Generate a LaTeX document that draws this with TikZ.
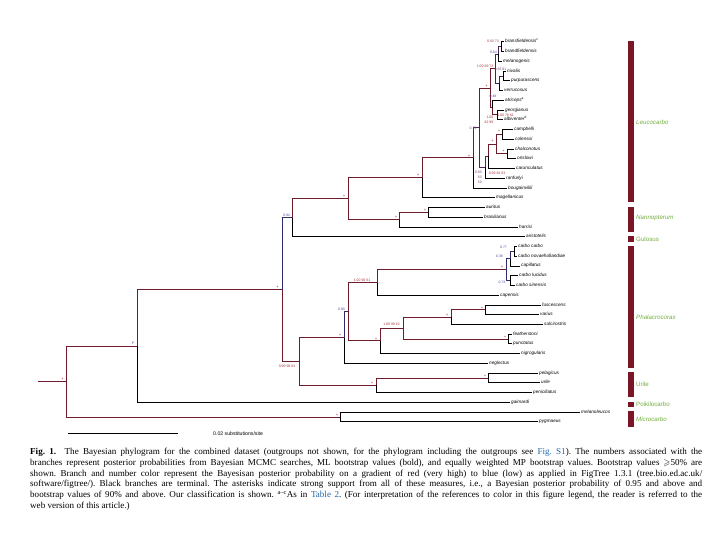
\documentclass[tikz,border=0pt]{standalone}
\usepackage{fontspec}
\usepackage{amssymb}
\setmainfont{Liberation Serif}
\newfontfamily\lsans{Liberation Sans}
\definecolor{brred}{HTML}{6E1C2C}
\definecolor{brpur}{HTML}{4E2556}
\definecolor{brblu}{HTML}{2F2C6C}
\definecolor{lbred}{HTML}{A3353A}
\definecolor{lbpur}{HTML}{7A4A7A}
\definecolor{lbblu}{HTML}{4B4E9C}
\definecolor{cgreen}{HTML}{72AE3E}
\definecolor{barred}{HTML}{7A1626}
\definecolor{linkblue}{HTML}{2266AA}
\tikzset{
  br/.style={line width=1bp, brred},
  brp/.style={line width=1bp, brpur},
  brb/.style={line width=1bp, brblu},
  tb/.style={line width=1bp, black},
  lf/.style={anchor=west, inner sep=1bp, font=\lsans\itshape\fontsize{4.7}{5}\selectfont, text height=3bp, text depth=1bp},
  supl/.style={inner sep=0pt, font=\lsans\fontsize{3.5}{5}\selectfont, text=lbred},
  supb/.style={supl, text=lbblu},
  supp/.style={supl, text=lbpur},
  ast/.style={inner sep=0pt, font=\lsans\fontsize{5}{5}\selectfont, text=lbred},
  clade/.style={anchor=west, inner sep=0pt, font=\lsans\itshape\fontsize{6.2}{7}\selectfont, text=cgreen},
  cladeu/.style={anchor=west, inner sep=0pt, font=\lsans\fontsize{6.2}{7}\selectfont, text=cgreen},
  cbar/.style={fill=barred, draw=none},
}
\begin{document}
\begin{tikzpicture}[x=1bp,y=-1bp]
\useasboundingbox (0,0) rectangle (720,540);
% internal nodes
\coordinate (root0) at (38,381.5);
\coordinate (nR) at (66,381.5);
\coordinate (n137) at (137,346.0);
\coordinate (n282) at (282,289.6);
\coordinate (nLNG) at (292,217.8);
\coordinate (nLN) at (348,198.8);
\coordinate (nL) at (422,177.9);
\coordinate (nB) at (473,158.0);
\coordinate (nC) at (479,127.9);
\coordinate (nD) at (490,88.3);
\coordinate (nG) at (495,68.8);
\coordinate (nb) at (498,54.2);
\coordinate (na) at (501,46.9);
\coordinate (nd) at (499,83.4);
\coordinate (nc) at (503,76.1);
\coordinate (nH) at (492,107.7);
\coordinate (nI) at (497,115.0);
\coordinate (nE) at (485,167.4);
\coordinate (nJ) at (488,156.4);
\coordinate (nK) at (496,144.3);
\coordinate (nM) at (502,134.6);
\coordinate (nN) at (507,154.0);
\coordinate (nNan) at (399,219.8);
\coordinate (nNan2) at (428,212.4);
\coordinate (nP0) at (299,361.4);
\coordinate (nP1) at (344,337.6);
\coordinate (nP2) at (348,311.7);
\coordinate (nP3) at (377,282.5);
\coordinate (nQ) at (506,269.7);
\coordinate (nQ1) at (510,258.7);
\coordinate (nQ1a) at (514,251.4);
\coordinate (nQ2) at (510,280.6);
\coordinate (nP4) at (380,340.9);
\coordinate (nRr) at (403,328.1);
\coordinate (nfvs) at (451,317.2);
\coordinate (nfv) at (485,309.9);
\coordinate (nfp) at (508,339.1);
\coordinate (nU) at (376,385.3);
\coordinate (nU2) at (488,378.0);
\coordinate (nMc) at (340,417.0);
% leaves
\node[lf] (l00) at (504,42.0) {bransfieldensis\textsuperscript{c}};
\node[lf] (l01) at (504,51.7) {brandfieldensis};
\node[lf] (l02) at (502,61.5) {melanogenis};
\node[lf] (l03) at (506,71.2) {nivalis};
\node[lf] (l04) at (510,81.0) {purpurascens};
\node[lf] (l05) at (503,90.7) {verrucosus};
\node[lf] (l06) at (504,100.4) {atriceps\textsuperscript{a}};
\node[lf] (l07) at (504,110.2) {georgianus};
\node[lf] (l08) at (503,119.9) {albiventer\textsuperscript{b}};
\node[lf] (l09) at (513,129.7) {campbelli};
\node[lf] (l10) at (514,139.4) {colensoi};
\node[lf] (l11) at (514,149.1) {chalconotus};
\node[lf] (l12) at (516,158.9) {onslowi};
\node[lf] (l13) at (515,168.6) {carunculatus};
\node[lf] (l14) at (505,178.4) {ranfurlyi};
\node[lf] (l15) at (507,188.1) {bougainvillii};
\node[lf] (l16) at (495,197.8) {magellanicus};
\node[lf] (l17) at (485,207.6) {auritus};
\node[lf] (l18) at (483,217.3) {brasilianus};
\node[lf] (l19) at (518,227.1) {harrisi};
\node[lf] (l20) at (525,236.8) {aristotelis};
\node[lf] (l21) at (517,246.5) {carbo carbo};
\node[lf] (l22) at (517,256.3) {carbo novaehollandiae};
\node[lf] (l23) at (520,266.0) {capillatus};
\node[lf] (l24) at (518,275.8) {carbo lucidus};
\node[lf] (l25) at (515,285.5) {carbo sinensis};
\node[lf] (l26) at (499,295.2) {capensis};
\node[lf] (l27) at (541,305.0) {fuscescens};
\node[lf] (l28) at (539,314.7) {varius};
\node[lf] (l29) at (543,324.5) {sulcirostris};
\node[lf] (l30) at (512,334.2) {featherstoni};
\node[lf] (l31) at (512,343.9) {punctatus};
\node[lf] (l32) at (520,353.7) {nigrogularis};
\node[lf] (l33) at (488,363.4) {neglectus};
\node[lf] (l34) at (538,373.2) {pelagicus};
\node[lf] (l35) at (540,382.9) {urile};
\node[lf] (l36) at (532,392.6) {penicillatus};
\node[lf] (l37) at (510,402.4) {gaimardi};
\node[lf] (l38) at (580,412.1) {melanoleucos};
\node[lf] (l39) at (538,421.9) {pygmaeus};
% internal branches
\draw[br] (root0) -- (nR);
\draw[br] (nR) |- (n137);
\draw[br] (nR) |- (nMc);
\draw[br] (n137) |- (n282);
\draw[brb] (n282) |- (nLNG);
\draw[br] (n282) |- (nP0);
\draw[br] (nLNG) |- (nLN);
\draw[br] (nLN) |- (nL);
\draw[br] (nLN) |- (nNan);
\draw[br] (nL) |- (nB);
\draw[brp] (nB) |- (nC);
\draw[br] (nC) |- (nD);
\draw[brp] (nC) |- (nE);
\draw[br] (nD) |- (nG);
\draw[br] (nD) |- (nH);
\draw[brb] (nG) |- (nb);
\draw[brb] (nG) |- (nd);
\draw[brp] (nb) |- (na);
\draw[brp] (nd) |- (nc);
\draw[br] (nH) |- (nI);
\draw[br] (nE) |- (nJ);
\draw[br] (nJ) |- (nK);
\draw[br] (nK) |- (nM);
\draw[br] (nK) |- (nN);
\draw[br] (nNan) |- (nNan2);
\draw[br] (nP0) |- (nP1);
\draw[br] (nP0) |- (nU);
\draw[brb] (nP1) |- (nP2);
\draw[br] (nP2) |- (nP3);
\draw[br] (nP2) |- (nP4);
\draw[br] (nP3) |- (nQ);
\draw[brb] (nQ) |- (nQ1);
\draw[brb] (nQ) |- (nQ2);
\draw[brb] (nQ1) |- (nQ1a);
\draw[br] (nP4) |- (nRr);
\draw[br] (nRr) |- (nfvs);
\draw[br] (nRr) |- (nfp);
\draw[br] (nfvs) |- (nfv);
\draw[br] (nU) |- (nU2);
% terminal branches
\draw[tb] (na) |- (l00.west);
\draw[tb] (na) |- (l01.west);
\draw[tb] (nb) |- (l02.west);
\draw[tb] (nc) |- (l03.west);
\draw[tb] (nc) |- (l04.west);
\draw[tb] (nd) |- (l05.west);
\draw[tb] (nH) |- (l06.west);
\draw[tb] (nI) |- (l07.west);
\draw[tb] (nI) |- (l08.west);
\draw[tb] (nM) |- (l09.west);
\draw[tb] (nM) |- (l10.west);
\draw[tb] (nN) |- (l11.west);
\draw[tb] (nN) |- (l12.west);
\draw[tb] (nJ) |- (l13.west);
\draw[tb] (nE) |- (l14.west);
\draw[tb] (nB) |- (l15.west);
\draw[tb] (nL) |- (l16.west);
\draw[tb] (nNan2) |- (l17.west);
\draw[tb] (nNan2) |- (l18.west);
\draw[tb] (nNan) |- (l19.west);
\draw[tb] (nLNG) |- (l20.west);
\draw[tb] (nQ1a) |- (l21.west);
\draw[tb] (nQ1a) |- (l22.west);
\draw[tb] (nQ1) |- (l23.west);
\draw[tb] (nQ2) |- (l24.west);
\draw[tb] (nQ2) |- (l25.west);
\draw[tb] (nP3) |- (l26.west);
\draw[tb] (nfv) |- (l27.west);
\draw[tb] (nfv) |- (l28.west);
\draw[tb] (nfvs) |- (l29.west);
\draw[tb] (nfp) |- (l30.west);
\draw[tb] (nfp) |- (l31.west);
\draw[tb] (nP4) |- (l32.west);
\draw[tb] (nP1) |- (l33.west);
\draw[tb] (nU2) |- (l34.west);
\draw[tb] (nU2) |- (l35.west);
\draw[tb] (nU) |- (l36.west);
\draw[tb] (n137) |- (l37.west);
\draw[tb] (nMc) |- (l38.west);
\draw[tb] (nMc) |- (l39.west);
% support labels
\node[supl, anchor=east] (s01) at (499,41.5) {0.92 73};
\node[supb, anchor=east] (s02) at (497,52) {0.64};
\node[supp] (s03) at (500.5,69) {0.66 91};
\node[supb] (s04) at (493,96) {0.48};
\node[supl, anchor=east] (s05) at (493.5,66.5) {1.00 89 73};
\node[supl] (s06) at (505.5,115) {1.00 78 81};
\node[supl, anchor=east, align=right] (s07) at (493.5,120) {1.00\\82 99};
\node[supp] (s08) at (473,128) {0.79};
\node[supl] (s09) at (497,173) {0.99 84 63};
\node[supp, anchor=east, align=right] (s10) at (482,177) {0.80\\63\\50};
\node[supb] (s11) at (286.5,215) {0.94};
\node[supb] (s12) at (133,343) {P};
\node[supl] (s13) at (287,366) {0.99 90 64};
\node[supb] (s14) at (341.5,309.5) {0.80};
\node[supl] (s15) at (362,280) {1.00 90 61};
\node[supb] (s16) at (499.5,256) {0.38};
\node[supb] (s17) at (503.5,247) {0.77};
\node[supb] (s18) at (502,282) {0.74};
\node[supl] (s19) at (391.5,324.5) {1.00 99 62};
% asterisks
\node[ast] (a01) at (486.5,87) {*};
\node[ast] (a02) at (469,157) {*};
\node[ast] (a03) at (499,132) {*};
\node[ast] (a04) at (492.5,141.5) {*};
\node[ast] (a05) at (503.5,151.5) {*};
\node[ast] (a06) at (418,176) {*};
\node[ast] (a07) at (344,197) {*};
\node[ast] (a08) at (396,218) {*};
\node[ast] (a09) at (425,211) {*};
\node[ast] (a10) at (277.5,288) {*};
\node[ast] (a11) at (62.5,380) {*};
\node[ast] (a12) at (340,336) {*};
\node[ast] (a13) at (502,268) {*};
\node[ast] (a14) at (376,339.5) {*};
\node[ast] (a15) at (447,315.5) {*};
\node[ast] (a16) at (482,308.5) {*};
\node[ast] (a17) at (505,337.5) {*};
\node[ast] (a18) at (372,384) {*};
\node[ast] (a19) at (485,376.5) {*};
\node[ast] (a20) at (337,415.5) {*};
% clade bars and names
\fill[cbar] (628,41) rectangle (633.5,202);
\fill[cbar] (628,207) rectangle (633.5,232);
\fill[cbar] (628,236) rectangle (633.5,242);
\fill[cbar] (628,246) rectangle (633.5,368);
\fill[cbar] (628,372) rectangle (633.5,397);
\fill[cbar] (628,402) rectangle (633.5,407);
\fill[cbar] (628,411) rectangle (633.5,427);
\node[clade] (c1) at (636,122) {Leucocarbo};
\node[clade] (c2) at (636,218) {Nannopterum};
\node[cladeu] (c3) at (636,239) {Gulosus};
\node[clade] (c4) at (636,317) {Phalacrocorax};
\node[cladeu] (c5) at (636,384) {Urile};
\node[cladeu] (c6) at (636,404) {Poikilocarbo};
\node[clade] (c7) at (636,419) {Microcarbo};
% scale bar
\coordinate (sb1) at (68,433);
\coordinate (sb2) at (178,433);
\draw[line width=0.8bp] (sb1) -- (sb2);
\node[inner sep=0pt, anchor=west, font=\lsans\fontsize{5.2}{6}\selectfont] (sbl) at (213,434) {0.02 substitutions/site};
% caption
\node[anchor=north west, inner sep=0pt, text width=672bp, align=justify, font=\fontsize{9.1}{11}\selectfont\frenchspacing] (cap) at (30,447.5) {%
\textbf{Fig.\ 1.}\ \ The Bayesian phylogram for the combined dataset (outgroups not shown, for the phylogram including the outgroups see \textcolor{linkblue}{Fig. S1}). The numbers associated with the\linebreak
branches represent posterior probabilities from Bayesian MCMC searches, ML bootstrap values (bold), and equally weighted MP bootstrap values. Bootstrap values $\geqslant$50\% are\linebreak
shown. Branch and number color represent the Bayesisan posterior probability on a gradient of red (very high) to blue (low) as applied in FigTree 1.3.1 (tree.bio.ed.ac.uk/\linebreak
software/figtree/). Black branches are terminal. The asterisks indicate strong support from all of these measures, i.e., a Bayesian posterior probability of 0.95 and above and\linebreak
bootstrap values of 90\% and above. Our classification is shown. \textsuperscript{a--c}As in \textcolor{linkblue}{Table 2}. (For interpretation of the references to color in this figure legend, the reader is referred to the\linebreak
web version of this article.)};
\end{tikzpicture}
\end{document}
